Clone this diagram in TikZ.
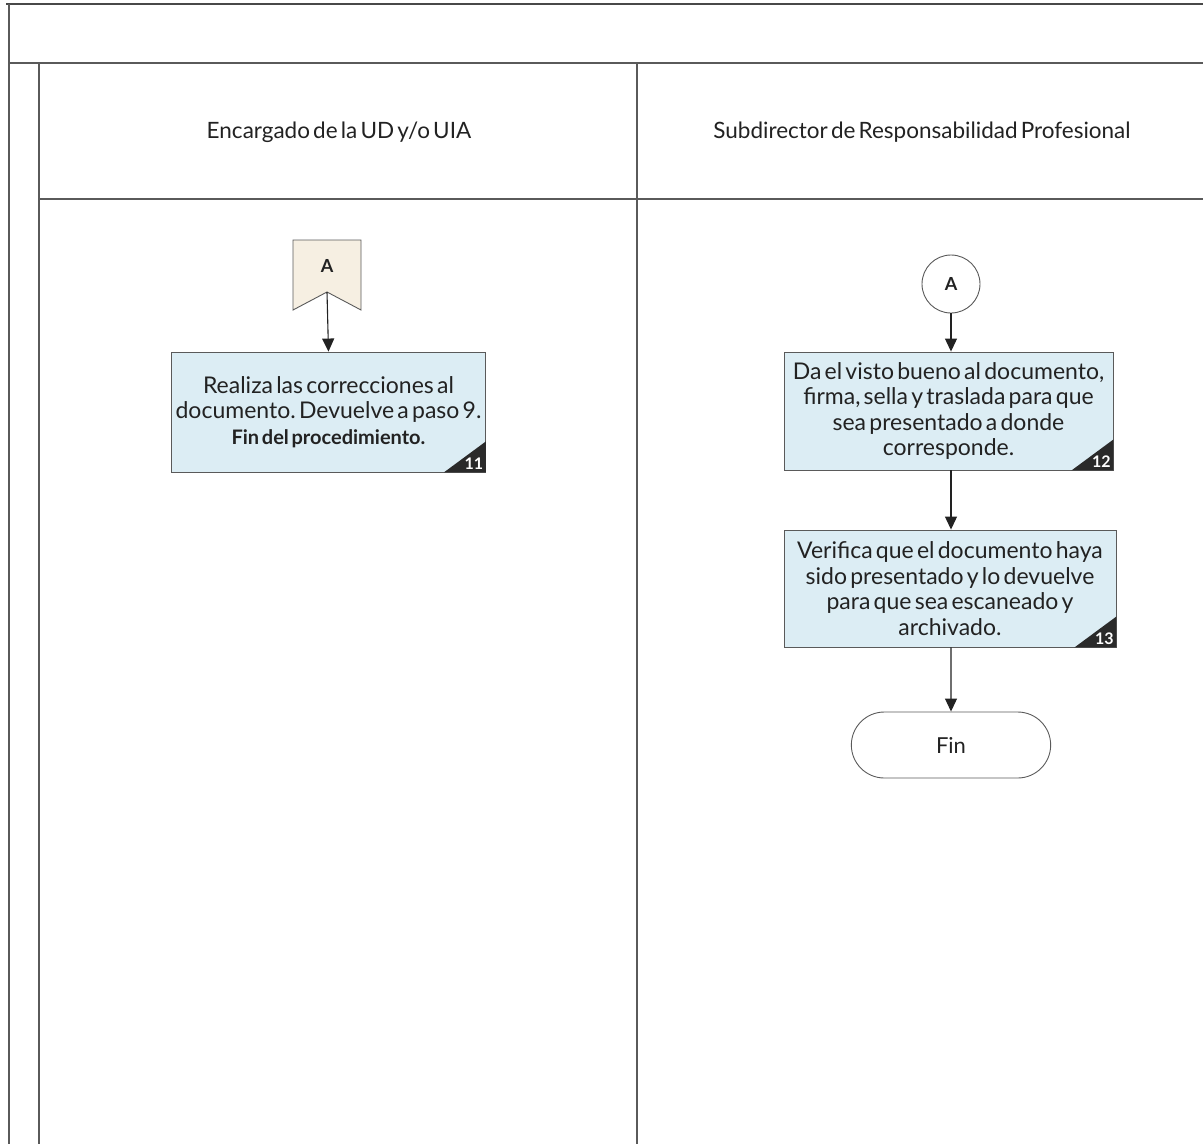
\documentclass[tikz,border=0pt]{standalone}
\usepackage{fontspec}
\setmainfont{Lato}[WordSpace={0.55,0.5,0.5}]
\frenchspacing
\usetikzlibrary{arrows.meta,shapes.misc}
\definecolor{frame}{HTML}{5A5A5A}
\definecolor{ink}{HTML}{222222}
\definecolor{stepfill}{HTML}{DCEDF4}
\definecolor{tagfill}{HTML}{F6EFE2}
\definecolor{cornerfill}{HTML}{2A2A2A}
\begin{document}
\begin{tikzpicture}[x=1pt,y=-1pt,
  lane/.style={draw=frame,line width=1.2pt},
  header/.style={font=\fontsize{22.5}{26}\selectfont,text=ink},
  stepbox/.style={draw=frame,line width=0.9pt,fill=stepfill,rectangle,inner sep=4pt,
    align=center,text=ink,font=\fontsize{23}{25.5}\selectfont},
  flow/.style={draw=ink,line width=1.1pt,-{Triangle[length=13pt,width=12pt]}},
  stepnum/.style={text=white,font=\bfseries\fontsize{16}{16}\selectfont,inner sep=2.5pt,anchor=south east},
  conn/.style={font=\bfseries\fontsize{18}{18}\selectfont,text=ink}
]
\useasboundingbox (0,0) rectangle (1203,1144);

% swimlane frame
\draw[draw=frame!80!black,line width=2.5pt] (6,4) -- (1203,4);
\draw[lane] (9,4) -- (9,1144);
\draw[lane] (9,63) -- (1203,63);
\draw[lane] (39,63) -- (39,1144);
\draw[lane] (637,63) -- (637,1144);
\draw[lane] (39,199) -- (1203,199);

% lane headers
\node[header] (h1) at (339,132) {Encargado de la UD y/o UIA};
\node[header] (h2) at (922,132) {Subdirector de Responsabilidad Profesional};

% off-page connector A
\fill[tagfill] (293,240) -- (361,240) -- (361,310) -- (327,292) -- (293,310) -- cycle;
\draw[frame,line width=0.9pt] (293,240) -- (361,240) -- (361,310) -- (327,292) -- (293,310) -- cycle;
\node[conn,inner sep=0pt] (offA) at (327,266) {A};
\coordinate (offtip) at (327,292);

% step 11
\node[stepbox,minimum width=313pt,minimum height=120pt] (s11) at (328.5,412)
  {Realiza las correcciones al\\documento. Devuelve a paso 9.\\
   {\bfseries\fontsize{20}{22}\selectfont Fin del procedimiento.}};

% on-page connector A
\node[draw=frame,line width=0.9pt,circle,fill=white,minimum size=58pt,conn] (onA) at (951,284) {A};

% step 12
\node[stepbox,minimum width=329pt,minimum height=118pt] (s12) at (948.5,411)
  {Da el visto bueno al documento,\\firma, sella y traslada para que\\sea presentado a donde\\corresponde.};

% step 13
\node[stepbox,minimum width=332pt,minimum height=117pt] (s13) at (950,588.5)
  {Verifica que el documento haya\\sido presentado y lo devuelve\\para que sea escaneado y\\archivado.};

% end terminal
\node[draw=frame,line width=0.9pt,rounded rectangle,minimum width=206pt,minimum height=66pt,
  text=ink,font=\fontsize{22}{24}\selectfont] (fin) at (951,745) {Fin};

% step number corners
\foreach \s/\n in {s11/11,s12/12,s13/13}{
  \fill[cornerfill] (\s.south east) -- ++(-42,0) -- ++(42,-31) -- cycle;
  \node[stepnum] at (\s.south east) {\n};
}

% connectors
\draw[flow] (offtip) -- (s11.north);
\draw[flow] (onA) -- (onA |- s12.north);
\draw[flow] (onA |- s12.south) -- (onA |- s13.north);
\draw[flow] (onA |- s13.south) -- (fin);
\end{tikzpicture}
\end{document}
